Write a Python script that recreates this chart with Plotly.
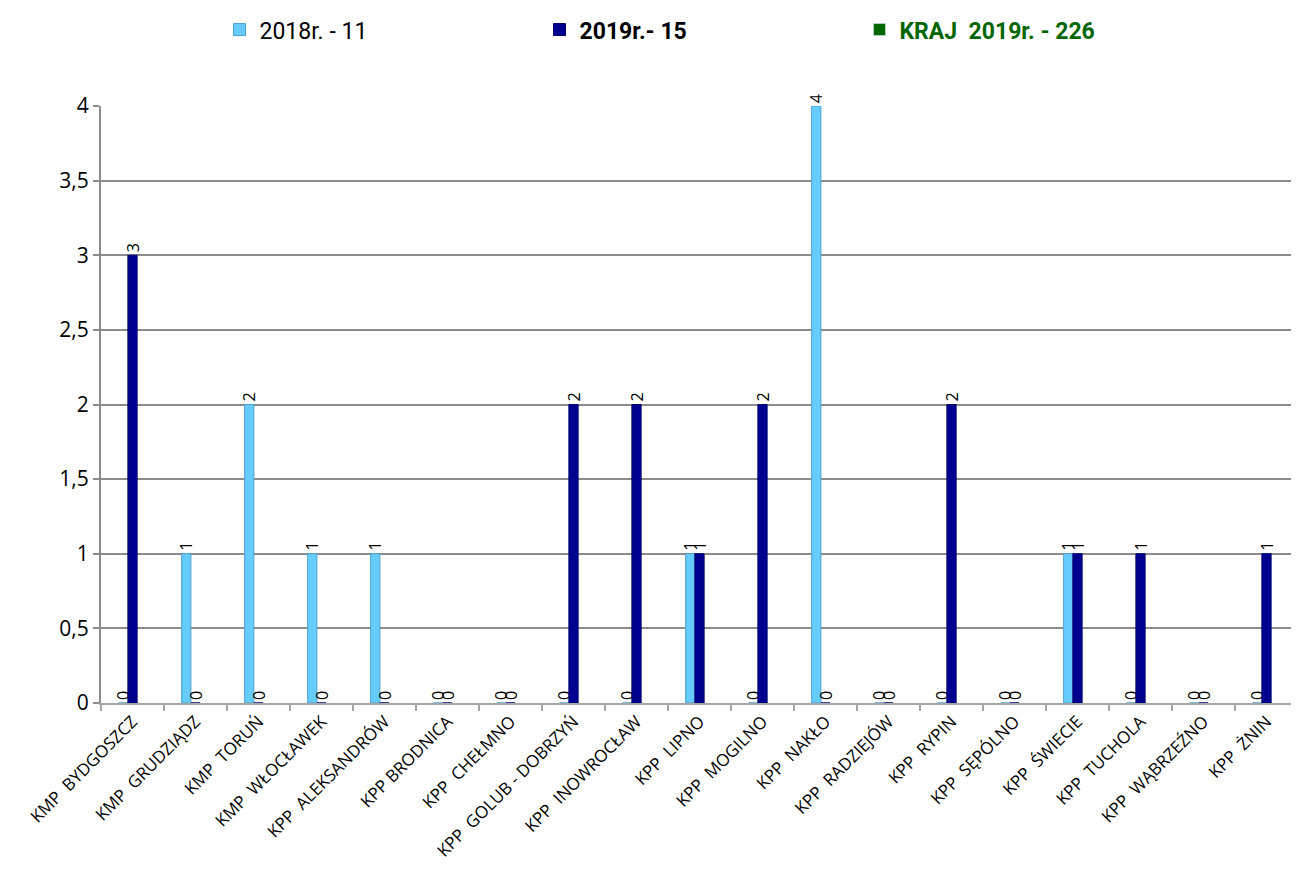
import plotly.graph_objects as go

categories = ["KMP  BYDGOSZCZ", "KMP  GRUDZIĄDZ", "KMP  TORUŃ", "KMP  WŁOCŁAWEK",
              "KPP  ALEKSANDRÓW", "KPP BRODNICA", "KPP  CHEŁMNO", "KPP  GOLUB - DOBRZYŃ",
              "KPP  INOWROCŁAW", "KPP  LIPNO", "KPP  MOGILNO", "KPP  NAKŁO",
              "KPP  RADZIEJÓW", "KPP  RYPIN", "KPP  SĘPÓLNO", "KPP  ŚWIECIE",
              "KPP  TUCHOLA", "KPP  WĄBRZEŹNO", "KPP  ŻNIN"]
values_2018 = [0, 1, 2, 1, 1, 0, 0, 0, 0, 1, 0, 4, 0, 0, 0, 1, 0, 0, 0]
values_2019 = [3, 0, 0, 0, 0, 0, 0, 2, 2, 1, 2, 0, 0, 2, 0, 1, 1, 0, 1]
name_2018 = "2018r. - 11"
name_2019 = "<b>2019r.- 15</b>"
name_kraj = "<b><span style='color:#006600'>KRAJ  2019r. - 226</span></b>"

tick_text = [c.replace("  ", " \u00a0") for c in categories]

fig = go.Figure()
fig.add_bar(x=categories, y=values_2018, name=name_2018,
            marker=dict(color="#66CCFF", line=dict(color="#4BA3CF", width=1)),
            text=[str(v) for v in values_2018], textposition="outside",
            textangle=-90, textfont=dict(size=20, color="black"),
            cliponaxis=False)
fig.add_bar(x=categories, y=values_2019, name=name_2019,
            marker=dict(color="#000090", line=dict(color="#000070", width=1)),
            text=[str(v) for v in values_2019], textposition="outside",
            textangle=-90, textfont=dict(size=20, color="black"),
            cliponaxis=False)
fig.add_bar(x=categories, y=[None] * len(categories), name=name_kraj,
            marker=dict(color="#006600"))

fig.update_layout(
    width=1299, height=873,
    margin=dict(l=93, r=9, t=98, b=178, autoexpand=False),
    paper_bgcolor="white", plot_bgcolor="white",
    separators=", ",
    barmode="group", bargap=0.56, bargroupgap=0.0,
    font=dict(family="Open Sans, Noto Sans, sans-serif", color="black"),
    legend=dict(orientation="h", x=0.5, xanchor="center", y=1.128, yanchor="middle",
                font=dict(family="Liberation Sans Narrow, Roboto, sans-serif", size=23, color="black"),
                entrywidth=275, itemwidth=30, bgcolor="rgba(0,0,0,0)"),
    showlegend=True,
)
fig.update_yaxes(range=[0, 4], dtick=0.5, showgrid=True, gridcolor="#8C8C8C", gridwidth=2,
                 showline=True, linecolor="#8C8C8C", linewidth=2,
                 ticks="outside", tickcolor="#8C8C8C", ticklen=6, tickwidth=2,
                 tickfont=dict(size=21, family="Open Sans, sans-serif"), zeroline=False)
fig.update_xaxes(showline=True, linecolor="#A6A6A6", linewidth=2, tickangle=-45,
                 tickmode="array", tickvals=categories, ticktext=tick_text,
                 ticks="outside", tickson="boundaries", tickcolor="#A6A6A6", ticklen=6, tickwidth=2,
                 tickfont=dict(size=17, family="Open Sans, sans-serif"))

fig.write_html("out.html")
